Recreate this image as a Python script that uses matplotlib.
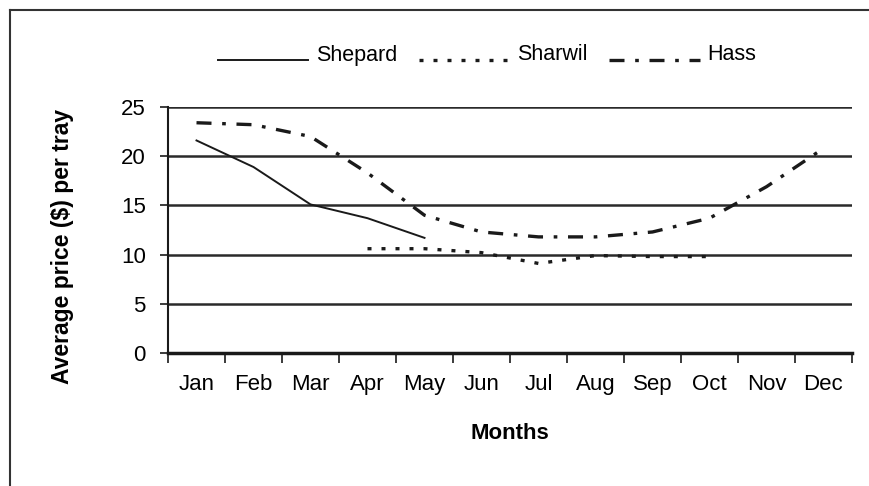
import matplotlib
matplotlib.use("Agg")
import matplotlib.pyplot as plt
from matplotlib.lines import Line2D
from matplotlib.legend_handler import HandlerLine2D
import numpy as np

months = ["Jan", "Feb", "Mar", "Apr", "May", "Jun", "Jul", "Aug", "Sep", "Oct", "Nov", "Dec"]
shepard = [21.6, 18.9, 15.1, 13.7, 11.7, None, None, None, None, None, None, None]
sharwil = [None, None, None, 10.6, 10.6, 10.2, 9.1, 9.9, 9.8, 9.8, None, None]
hass = [23.4, 23.2, 22.0, 18.3, 14.0, 12.3, 11.8, 11.8, 12.3, 13.7, 16.9, 20.8]
yticks = [0, 5, 10, 15, 20, 25]

plt.rcParams['font.family'] = ['Liberation Sans', 'DejaVu Sans']

fig = plt.figure(figsize=(8.69, 4.86), dpi=100)
ax = fig.add_axes([168/869, 1-353/486, (852-168)/869, (353-107)/486])

x = np.arange(len(months))
def arr(v):
    return np.array([np.nan if a is None else a for a in v], dtype=float)

ax.plot(x, arr(shepard), color='#1a1a1a', lw=1.4, label='Shepard')
ax.plot(x, arr(sharwil), color='#1a1a1a', lw=2.4, linestyle=(0, (1.2, 3.0)), label='Sharwil')
ax.plot(x, arr(hass), color='#1a1a1a', lw=2.4, linestyle=(0, (4.5, 3.2, 1.1, 3.2)), label='Hass')

ax.set_xlim(-0.5, 11.5)
ax.set_ylim(0, 25)
ax.set_yticks(yticks)
ax.set_yticklabels([str(t) for t in yticks], fontsize=16)
ax.set_xticks(x)
ax.set_xticklabels(months, fontsize=16)
ax.tick_params(axis='x', which='major', length=0, pad=15)
ax.set_xticks(np.arange(-0.5, 12, 1), minor=True)
ax.tick_params(axis='x', which='minor', length=7, width=1.2, color='#1a1a1a')
ax.tick_params(axis='y', length=6, width=1.2, color='#1a1a1a', pad=10)

for t in yticks[1:]:
    ax.axhline(t, color='#2a2a2a', lw=1.8, zorder=0)

for s in ['top', 'right']:
    ax.spines[s].set_visible(False)
ax.spines['left'].set_linewidth(1.5)
ax.spines['left'].set_color('#1a1a1a')
ax.spines['bottom'].set_linewidth(2.5)
ax.spines['bottom'].set_color('#1a1a1a')

ax.set_ylabel("Average price ($) per tray", fontsize=16.5, fontweight='bold')
ax.yaxis.set_label_coords((74-168)/684, (353-246)/246)
ax.set_xlabel("Months", fontsize=16, fontweight='bold')
ax.xaxis.set_label_coords(0.5, (353-423)/246)


class BaselineHandler(HandlerLine2D):
    def create_artists(self, legend, orig_handle, xdescent, ydescent, width, height, fontsize, trans):
        artists = super().create_artists(legend, orig_handle, xdescent, ydescent, width, height, fontsize, trans)
        for a in artists:
            yd = np.asarray(a.get_ydata(), dtype=float)
            a.set_ydata(np.full_like(yd, 0.5))
        return artists


handles, labels = ax.get_legend_handles_labels()
leg = fig.legend(handles, labels, loc='center', bbox_to_anchor=(487/869, 1-55/486), ncol=3, frameon=False,
                 fontsize=15.5, handlelength=4.2, columnspacing=1.0, handletextpad=0.37,
                 handler_map={Line2D: BaselineHandler()})

fig.add_artist(Line2D([10/869, 10/869], [0, 1-10/486], color='#333333', lw=1.5, transform=fig.transFigure))
fig.add_artist(Line2D([10/869, 1], [1-10/486, 1-10/486], color='#333333', lw=1.5, transform=fig.transFigure))

fig.savefig("out.png", dpi=100)
